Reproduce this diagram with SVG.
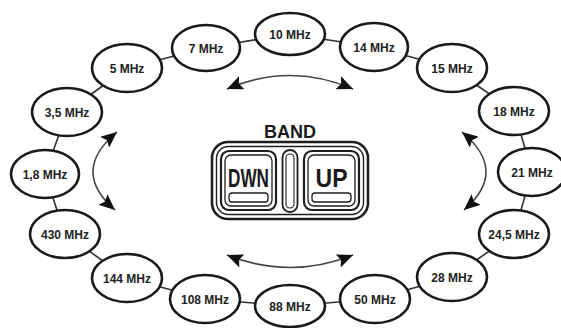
<svg xmlns="http://www.w3.org/2000/svg" width="561" height="328" viewBox="0 0 561 328">
<style>
.n ellipse{fill:#fff;stroke:#1a1a1a;stroke-width:2.6}
.n text{font-family:"Liberation Sans",Arial,sans-serif;font-weight:bold;font-size:12px;fill:#222;text-anchor:middle}
.c line{stroke:#333;stroke-width:1.6}
.a{fill:none;stroke:#444;stroke-width:1.6;marker-start:url(#ah);marker-end:url(#ah)}
.p{fill:none;stroke:#1e1e1e}
.bt{font-family:"Liberation Sans",Arial,sans-serif;font-weight:bold;fill:#1a1a1a;text-anchor:middle}
</style>
<defs>
<marker id="ah" markerUnits="userSpaceOnUse" markerWidth="17" markerHeight="14" refX="16" refY="7" orient="auto-start-reverse">
<path d="M0,0 L16,7 L0,14 L3,7 z" fill="#111"/>
</marker>
</defs>
<rect width="561" height="328" fill="#fff"/>
<g id="connectors" class="c">
<line x1="290" y1="34" x2="374" y2="47"/>
<line x1="374" y1="47" x2="452" y2="68"/>
<line x1="452" y1="68" x2="514" y2="111"/>
<line x1="514" y1="111" x2="532" y2="172"/>
<line x1="532" y1="172" x2="514" y2="234"/>
<line x1="514" y1="234" x2="452" y2="277"/>
<line x1="452" y1="277" x2="375" y2="299"/>
<line x1="375" y1="299" x2="290" y2="306"/>
<line x1="290" y1="306" x2="205" y2="299"/>
<line x1="205" y1="299" x2="127" y2="278"/>
<line x1="127" y1="278" x2="65" y2="234"/>
<line x1="65" y1="234" x2="45" y2="174"/>
<line x1="45" y1="174" x2="67" y2="112"/>
<line x1="67" y1="112" x2="127" y2="68"/>
<line x1="127" y1="68" x2="206" y2="48"/>
<line x1="206" y1="48" x2="290" y2="34"/>
<path class="a" d="M227 89 Q290 62 353 89"/>
<path class="a" d="M227 255 Q290 280 353 255"/>
<path class="a" d="M117 132 Q70 171 115 210"/>
<path class="a" d="M462 132 Q509 171 464 210"/>
</g>
<g id="n10" class="n"><ellipse cx="290" cy="34" rx="35" ry="21"/><text x="290" y="38.5">10 MHz</text></g>
<g id="n14" class="n"><ellipse cx="374" cy="47" rx="34" ry="24"/><text x="374" y="51.5">14 MHz</text></g>
<g id="n15" class="n"><ellipse cx="452" cy="68" rx="35" ry="24"/><text x="452" y="72.5">15 MHz</text></g>
<g id="n18" class="n"><ellipse cx="514" cy="111" rx="35" ry="24"/><text x="514" y="115.5">18 MHz</text></g>
<g id="n21" class="n"><ellipse cx="532" cy="172" rx="34" ry="24"/><text x="532" y="176.5">21 MHz</text></g>
<g id="n24" class="n"><ellipse cx="514" cy="234" rx="35" ry="24"/><text x="514" y="238.5">24,5 MHz</text></g>
<g id="n28" class="n"><ellipse cx="452" cy="277" rx="35" ry="24"/><text x="452" y="281.5">28 MHz</text></g>
<g id="n50" class="n"><ellipse cx="375" cy="299" rx="35" ry="24"/><text x="375" y="303.5">50 MHz</text></g>
<g id="n88" class="n"><ellipse cx="290" cy="306" rx="35" ry="21"/><text x="290" y="310.5">88 MHz</text></g>
<g id="n108" class="n"><ellipse cx="205" cy="299" rx="35" ry="24"/><text x="205" y="303.5">108 MHz</text></g>
<g id="n144" class="n"><ellipse cx="127" cy="278" rx="35" ry="24"/><text x="127" y="282.5">144 MHz</text></g>
<g id="n430" class="n"><ellipse cx="65" cy="234" rx="35" ry="24"/><text x="65" y="238.5">430 MHz</text></g>
<g id="n1_8" class="n"><ellipse cx="45" cy="174" rx="34" ry="24"/><text x="45" y="178.5">1,8 MHz</text></g>
<g id="n3_5" class="n"><ellipse cx="67" cy="112" rx="35" ry="24"/><text x="67" y="116.5">3,5 MHz</text></g>
<g id="n5" class="n"><ellipse cx="127" cy="68" rx="35" ry="24"/><text x="127" y="72.5">5 MHz</text></g>
<g id="n7" class="n"><ellipse cx="206" cy="48" rx="34" ry="23"/><text x="206" y="52.5">7 MHz</text></g>
<g id="band">
<text class="bt" x="290" y="138" font-size="18">BAND</text>
<rect class="p" x="212" y="142" width="156" height="77" rx="16" stroke-width="2.6"/>
<rect class="p" x="216.5" y="146.5" width="147" height="68" rx="12" stroke-width="1.4"/>
<rect class="p" x="221" y="151" width="55" height="59" rx="8" stroke-width="2.2"/>
<rect class="p" x="225" y="155" width="47" height="51" rx="6" stroke-width="1.3"/>
<rect class="p" x="229" y="193" width="39" height="9" rx="3" stroke-width="1.3"/>
<text class="bt" x="248.5" y="187" font-size="26" textLength="41" lengthAdjust="spacingAndGlyphs">DWN</text>
<rect class="p" x="282.5" y="150" width="15" height="62" rx="7.5" stroke-width="1.8"/>
<rect class="p" x="286" y="154" width="8" height="54" rx="4" stroke-width="1.1"/>
<rect class="p" x="304" y="151" width="55" height="59" rx="8" stroke-width="2.2"/>
<rect class="p" x="308" y="155" width="47" height="51" rx="6" stroke-width="1.3"/>
<rect class="p" x="312" y="193" width="39" height="9" rx="3" stroke-width="1.3"/>
<text class="bt" x="331.5" y="187" font-size="26" textLength="32" lengthAdjust="spacingAndGlyphs">UP</text>
</g>
</svg>
